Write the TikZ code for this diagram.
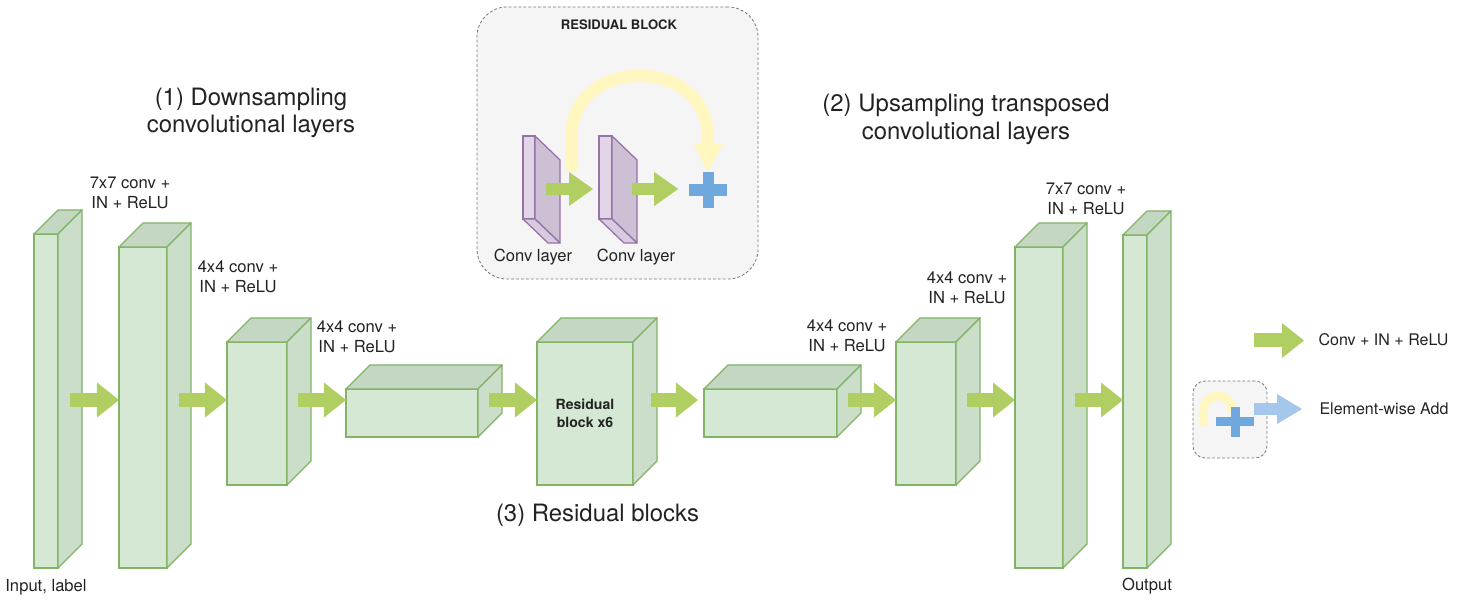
\documentclass[tikz,border=0pt]{standalone}
\usepackage{fontspec}
\setmainfont{TeX Gyre Heros}
\usetikzlibrary{arrows.meta,calc}
\definecolor{greenfront}{HTML}{D5E8D4}
\definecolor{greentop}{HTML}{C3D7C2}
\definecolor{greenside}{HTML}{CBDECA}
\definecolor{greenline}{HTML}{82B366}
\definecolor{arrowgreen}{HTML}{B1CE63}
\definecolor{purplefront}{HTML}{E1D5E7}
\definecolor{purpleside}{HTML}{CDC0D5}
\definecolor{purplebottom}{HTML}{D8CBE0}
\definecolor{purpleline}{HTML}{9673A6}
\definecolor{skipyellow}{HTML}{FFF6C0}
\definecolor{plusblue}{HTML}{6FA8DC}
\definecolor{legendblue}{HTML}{A6C7EC}
\definecolor{boxfill}{HTML}{F5F5F5}
\definecolor{boxline}{HTML}{777777}
\definecolor{textgray}{HTML}{222222}
\begin{document}
\begin{tikzpicture}[x=0.025cm, y=0.025cm,
  block/.style={draw=greenline, fill=greenfront, line width=0.9pt, inner sep=0pt, outer sep=0pt},
  blocktop/.style={draw=greenline, fill=greentop, line width=0.9pt, line join=round},
  blockside/.style={draw=greenline, fill=greenside, line width=0.9pt, line join=round},
  slab/.style={draw=purpleline, fill=purplefront, line width=0.9pt, inner sep=0pt, outer sep=0pt},
  slabside/.style={draw=purpleline, fill=purpleside, line width=0.9pt, line join=round},
  slabbottom/.style={draw=purpleline, fill=purplebottom, line width=0.9pt, line join=round},
  flow/.style={draw=arrowgreen, line width=0.35cm, -{Triangle[length=0.55cm, width=0.875cm, line width=0pt]}},
  flowsmall/.style={draw=arrowgreen, line width=0.3cm, -{Triangle[length=0.6cm, width=0.85cm, line width=0pt]}},
  skiparrow/.style={draw=skipyellow, line width=0.3cm, -{Triangle[length=0.7cm, width=0.75cm, line width=0pt]}},
  addflow/.style={draw=legendblue, line width=0.3cm, -{Triangle[length=0.625cm, width=0.75cm, line width=0pt]}},
  dashbox/.style={draw=boxline, fill=boxfill, dash pattern=on 2pt off 1.5pt, line width=0.6pt, inner sep=0pt},
  lbl/.style={align=center, inner sep=0pt, text=textgray, font=\fontsize{11.8}{14.2}\selectfont},
  titletext/.style={align=center, inner sep=0pt, text=textgray, font=\fontsize{17}{19.4}\selectfont},
]
\useasboundingbox (0,0) rectangle (1464,604);

% Bloc résiduel (détail)
\node[dashbox, rounded corners=0.75cm, minimum width=7.025cm, minimum height=6.8cm] (resbox) at (617.5,461) {};
\node[font=\bfseries\fontsize{9.3}{11}\selectfont, text=textgray, inner sep=0pt] (restitle) at (619,579) {RESIDUAL BLOCK};

\node[slab, minimum width=0.3cm, minimum height=2.075cm] (cl1) at (529,426.5) {};
\draw[slabside] (cl1.north east) -- ++(25,-24) -- ($(cl1.south east)+(25,-24)$) -- (cl1.south east) -- cycle;
\draw[slabbottom] (cl1.south west) -- (cl1.south east) -- ++(25,-24) -- ($(cl1.south west)+(25,-24)$) -- cycle;
\node[slab, minimum width=0.325cm, minimum height=2.075cm] (cl2) at (605.5,426.5) {};
\draw[slabside] (cl2.north east) -- ++(25,-24) -- ($(cl2.south east)+(25,-24)$) -- (cl2.south east) -- cycle;
\draw[slabbottom] (cl2.south west) -- (cl2.south east) -- ++(25,-24) -- ($(cl2.south west)+(25,-24)$) -- cycle;
\node[lbl] (cl1lbl) at (533,347) {Conv layer};
\node[lbl] (cl2lbl) at (636,347) {Conv layer};

\coordinate (sk) at (571,432);
\coordinate (axe2) at (0,415);
\node[inner sep=0pt, minimum width=0.925cm, minimum height=0.9cm] (add) at (708,414) {};
\draw[skiparrow] (sk) -- (571,466) .. controls (571,549) and (708,549) .. (708,466) -- (add.north);
\draw[flowsmall] ($(cl1.east |- axe2)+(11,0)$) -- ($(cl2.west |- axe2)+(-6,0)$);
\draw[flowsmall] ($(cl2.east |- axe2)+(20,0)$) -- ($(add.west |- axe2)+(-11,0)$);
\fill[plusblue] ($(add.north)+(-5.5,0)$) rectangle ($(add.south)+(5.5,0)$);
\fill[plusblue] ($(add.west)+(0,-6)$) rectangle ($(add.east)+(0,6)$);

% Couches de sous-échantillonnage
\node[block, minimum width=0.6cm, minimum height=8.35cm] (input) at (46,203) {};
\draw[blocktop] (input.north west) -- ++(24,24) -- ($(input.north east)+(24,24)$) -- (input.north east) -- cycle;
\draw[blockside] (input.north east) -- ++(24,24) -- ($(input.south east)+(24,24)$) -- (input.south east) -- cycle;

\node[block, minimum width=1.2cm, minimum height=8.025cm] (c1) at (143,196.5) {};
\draw[blocktop] (c1.north west) -- ++(24,24) -- ($(c1.north east)+(24,24)$) -- (c1.north east) -- cycle;
\draw[blockside] (c1.north east) -- ++(24,24) -- ($(c1.south east)+(24,24)$) -- (c1.south east) -- cycle;

\node[block, minimum width=1.5cm, minimum height=3.575cm] (c2) at (257,190.5) {};
\draw[blocktop] (c2.north west) -- ++(24,24) -- ($(c2.north east)+(24,24)$) -- (c2.north east) -- cycle;
\draw[blockside] (c2.north east) -- ++(24,24) -- ($(c2.south east)+(24,24)$) -- (c2.south east) -- cycle;

\node[block, minimum width=3.3cm, minimum height=1.2cm] (c3) at (412,191) {};
\draw[blocktop] (c3.north west) -- ++(24,24) -- ($(c3.north east)+(24,24)$) -- (c3.north east) -- cycle;
\draw[blockside] (c3.north east) -- ++(24,24) -- ($(c3.south east)+(24,24)$) -- (c3.south east) -- cycle;

% Blocs résiduels
\node[block, minimum width=2.4cm, minimum height=3.575cm, align=center, text=textgray,
  font=\bfseries\fontsize{10}{12.8}\selectfont] (res) at (585,190.5) {Residual\\block x6};
\draw[blocktop] (res.north west) -- ++(24,24) -- ($(res.north east)+(24,24)$) -- (res.north east) -- cycle;
\draw[blockside] (res.north east) -- ++(24,24) -- ($(res.south east)+(24,24)$) -- (res.south east) -- cycle;

% Couches de sur-échantillonnage
\node[block, minimum width=3.325cm, minimum height=1.2cm] (u1) at (770.5,191) {};
\draw[blocktop] (u1.north west) -- ++(24,24) -- ($(u1.north east)+(24,24)$) -- (u1.north east) -- cycle;
\draw[blockside] (u1.north east) -- ++(24,24) -- ($(u1.south east)+(24,24)$) -- (u1.south east) -- cycle;

\node[block, minimum width=1.5cm, minimum height=3.575cm] (u2) at (926,190.5) {};
\draw[blocktop] (u2.north west) -- ++(24,24) -- ($(u2.north east)+(24,24)$) -- (u2.north east) -- cycle;
\draw[blockside] (u2.north east) -- ++(24,24) -- ($(u2.south east)+(24,24)$) -- (u2.south east) -- cycle;

\node[block, minimum width=1.2cm, minimum height=8.025cm] (u3) at (1039,196.5) {};
\draw[blocktop] (u3.north west) -- ++(24,24) -- ($(u3.north east)+(24,24)$) -- (u3.north east) -- cycle;
\draw[blockside] (u3.north east) -- ++(24,24) -- ($(u3.south east)+(24,24)$) -- (u3.south east) -- cycle;

\node[block, minimum width=0.6cm, minimum height=8.325cm] (output) at (1135,202.5) {};
\draw[blocktop] (output.north west) -- ++(24,24) -- ($(output.north east)+(24,24)$) -- (output.north east) -- cycle;
\draw[blockside] (output.north east) -- ++(24,24) -- ($(output.south east)+(24,24)$) -- (output.south east) -- cycle;

% Flèches
\coordinate (axe) at (0,204);
\draw[flow] ($(input.east |- axe)+(12,0)$) -- (c1.west |- axe);
\draw[flow] ($(c1.east |- axe)+(12,0)$) -- (c2.west |- axe);
\draw[flow] ($(c2.east |- axe)+(11,0)$) -- (c3.west |- axe);
\draw[flow] ($(c3.east |- axe)+(11,0)$) -- (res.west |- axe);
\draw[flow] ($(res.east |- axe)+(18,0)$) -- ($(u1.west |- axe)+(-6,0)$);
\draw[flow] ($(u1.east |- axe)+(11,0)$) -- (u2.west |- axe);
\draw[flow] ($(u2.east |- axe)+(11,0)$) -- (u3.west |- axe);
\draw[flow] ($(u3.east |- axe)+(12,0)$) -- (output.west |- axe);

% Etiquettes
\node[lbl] (l1) at (130,411) {7x7 conv +\\IN + ReLU};
\node[lbl] (l2) at (238,327) {4x4 conv +\\IN + ReLU};
\node[lbl] (l3) at (357,267) {4x4 conv +\\IN + ReLU};
\node[lbl] (l4) at (847,268) {4x4 conv +\\IN + ReLU};
\node[lbl] (l5) at (967,316) {4x4 conv +\\IN + ReLU};
\node[lbl] (l6) at (1086,405) {7x7 conv +\\IN + ReLU};
\node[lbl] (inlbl) at (46,17) {Input, label};
\node[lbl] (outlbl) at (1147,18) {Output};

\node[titletext] (t1) at (251,491) {(1) Downsampling\\convolutional layers};
\node[titletext] (t2) at (966,484.5) {(2) Upsampling transposed\\convolutional layers};
\node[titletext] (t3) at (597.5,89) {(3) Residual blocks};

% Légende
\coordinate (lg1) at (1254,263.5);
\coordinate (lg2) at (1304,263.5);
\draw[flow] (lg1) -- (lg2);
\node[lbl, font=\fontsize{11.4}{13}\selectfont] (legconv) at (1383.5,264) {Conv + IN + ReLU};

\node[dashbox, rounded corners=0.3cm, minimum width=1.85cm, minimum height=1.925cm] (legbox) at (1230,184.5) {};
\draw[draw=skipyellow, line width=0.22cm] (1203,178) -- (1203,190) .. controls (1203,214) and (1232,214) .. (1232,192);
\node[inner sep=0pt, minimum width=0.925cm, minimum height=0.75cm] (addl) at (1235,182) {};
\fill[plusblue] ($(addl.north)+(-4.5,0)$) rectangle ($(addl.south)+(4.5,0)$);
\fill[plusblue] ($(addl.west)+(0,-4.5)$) rectangle ($(addl.east)+(0,4.5)$);
\coordinate (lg3) at (1302,195);
\draw[addflow] (addl.east |- lg3) -- (lg3);
\node[lbl, font=\fontsize{11.4}{13}\selectfont] (legadd) at (1384,195) {Element-wise Add};

\end{tikzpicture}
\end{document}
